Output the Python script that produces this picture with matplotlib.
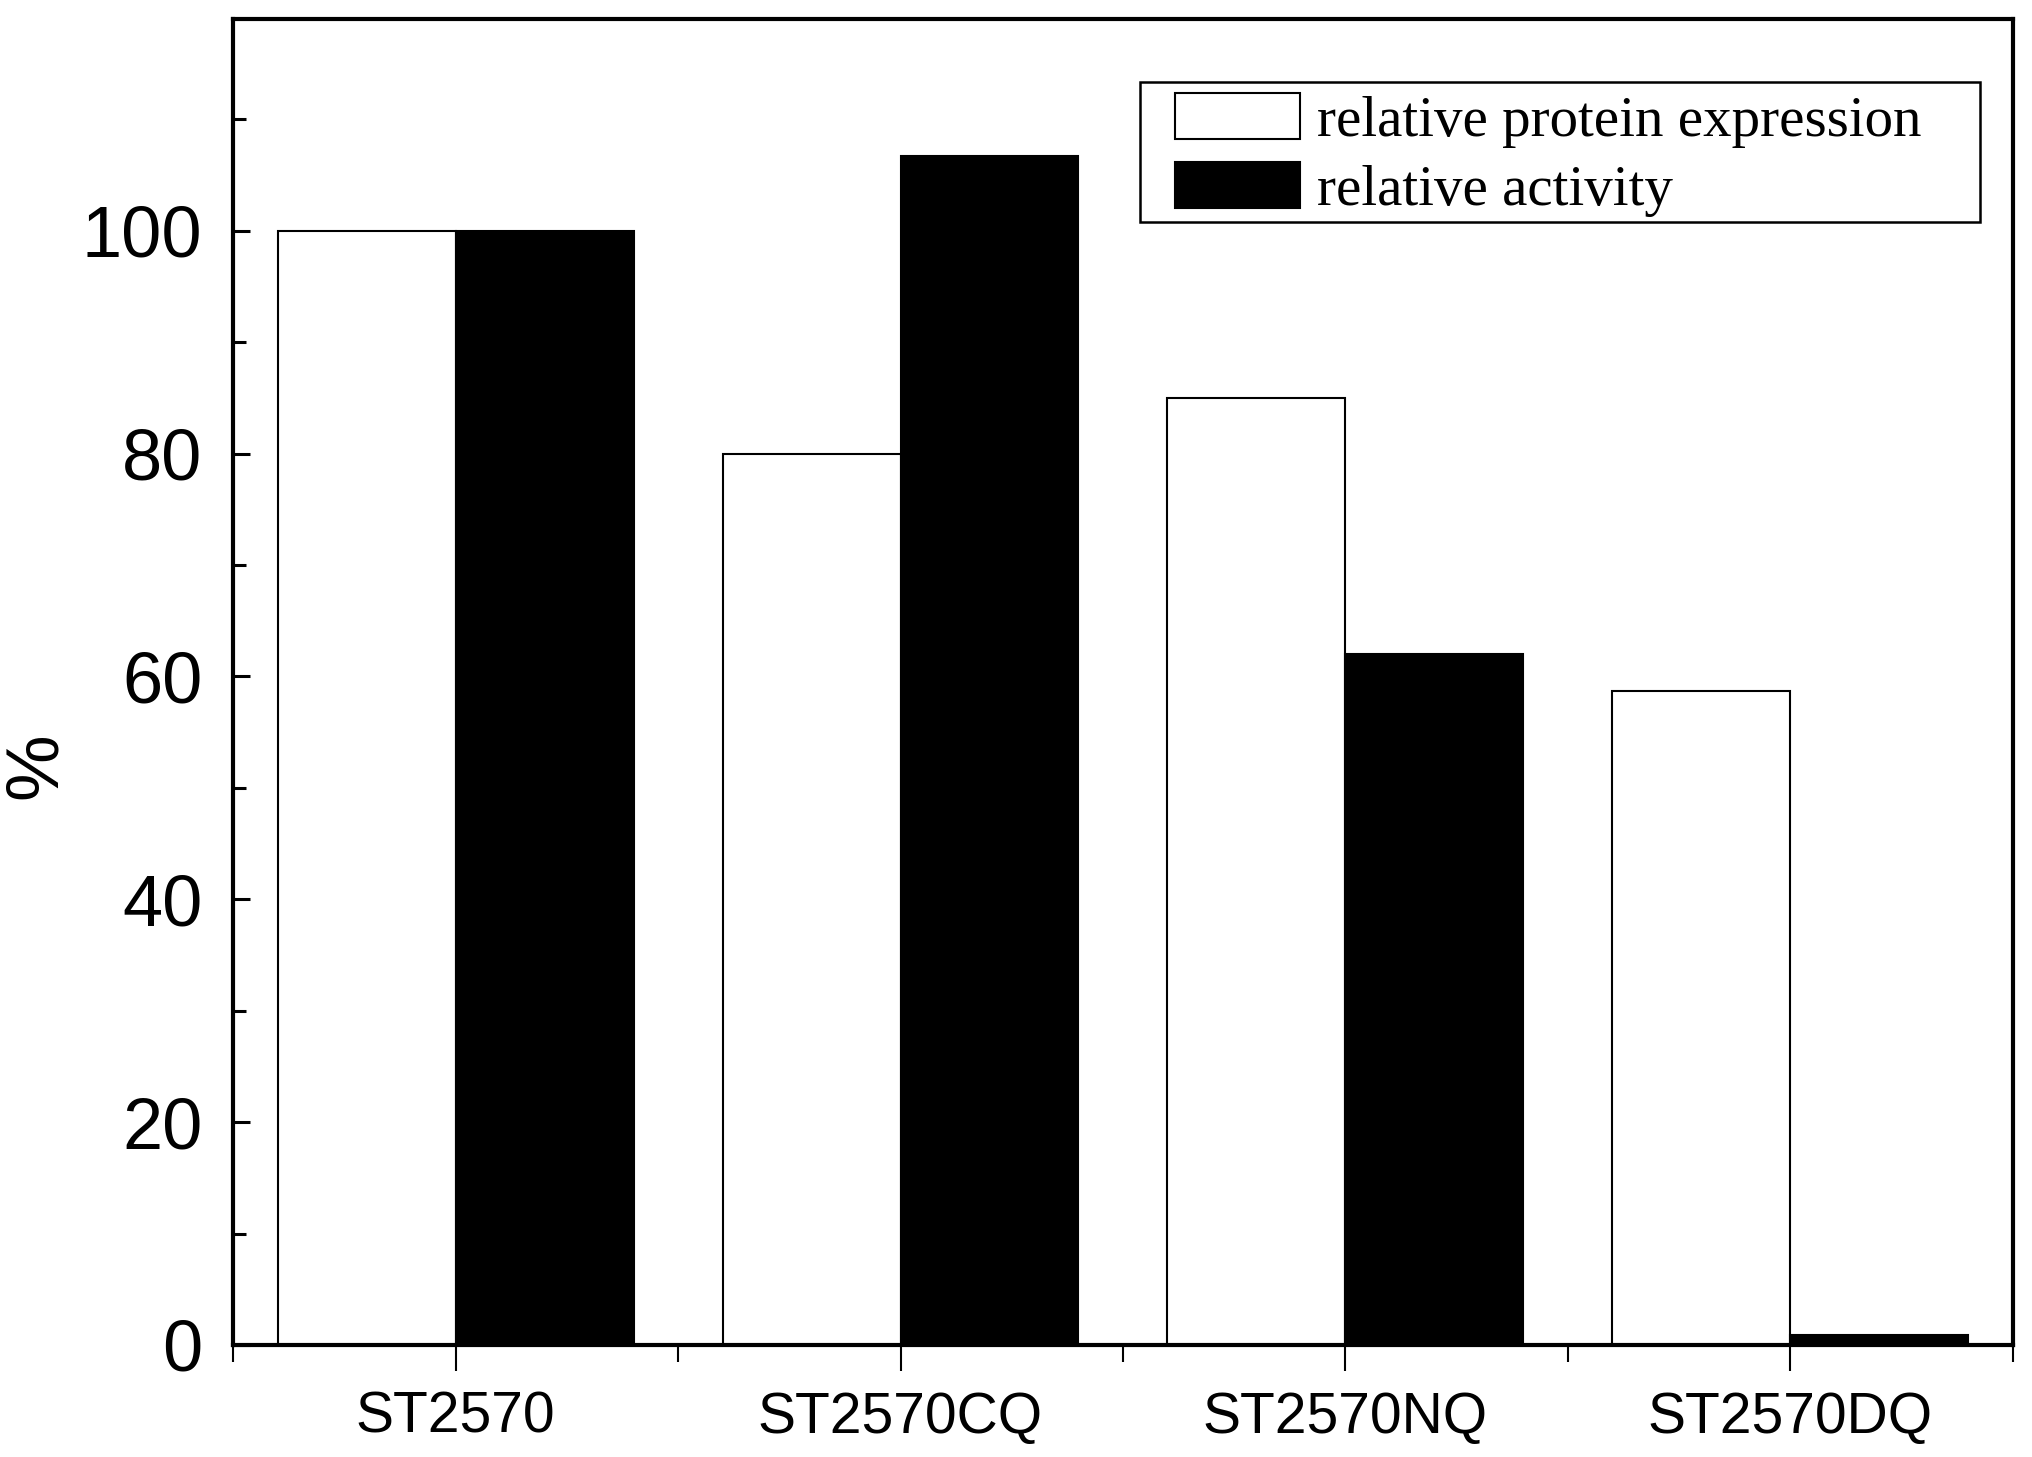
import numpy as np
import matplotlib.pyplot as plt
from matplotlib.patches import Rectangle
from matplotlib.ticker import MultipleLocator

# data
categories = ["ST2570", "ST2570CQ", "ST2570NQ", "ST2570DQ"]
protein_expression = [100, 80, 85, 58.7]
activity = [100, 106.7, 62, 0.9]

sans = ["Liberation Sans", "DejaVu Sans"]

fig = plt.figure(figsize=(20.32, 14.57), dpi=100)
ax = fig.add_axes([0.1147, 0.0769, 0.8759, 0.9101])

x = np.arange(1, len(categories) + 1)
w = 0.4
ax.bar(x - w / 2, protein_expression, width=w, color="white", edgecolor="black",
       linewidth=1.5, label="relative protein expression")
ax.bar(x + w / 2, activity, width=w, color="black", edgecolor="black",
       linewidth=1.5, label="relative activity")

ax.set_xlim(0.5, 4.5)
ax.set_ylim(0, 119)
ax.set_xticks(x)
ax.set_xticklabels(categories)
ax.xaxis.set_minor_locator(MultipleLocator(0.5))
ax.yaxis.set_major_locator(MultipleLocator(20))
ax.yaxis.set_minor_locator(MultipleLocator(10))

for side in ax.spines.values():
    side.set_linewidth(3)

ax.tick_params(axis="y", which="major", direction="in", length=12, width=2.2,
               labelsize=52, pad=22)
ax.tick_params(axis="y", which="minor", direction="in", length=9, width=2.2)
ax.tick_params(axis="x", which="major", direction="out", length=19, width=1.5,
               labelsize=41, pad=14)
ax.tick_params(axis="x", which="minor", direction="out", length=12, width=1.5)
for lab in ax.get_xticklabels() + ax.get_yticklabels():
    lab.set_family(sans)

ax.set_ylabel("%", fontsize=54, family=sans)
ax.yaxis.set_label_coords(-0.091, 0.437)

# legend frame drawn separately so the padding matches the original
ax.add_patch(Rectangle((0.5096, 0.847), 0.4719, 0.1055, transform=ax.transAxes,
                       facecolor="white", edgecolor="black", linewidth=1.8,
                       zorder=4))
leg = ax.legend(loc="upper left", bbox_to_anchor=(0.529, 0.944), borderaxespad=0,
                prop={"family": "Liberation Serif", "size": 41},
                handlelength=2.2, handleheight=0.86, handletextpad=0.3,
                labelspacing=0.25, borderpad=0, frameon=False)
leg.set_zorder(5)

fig.savefig("out.png", dpi=100)
